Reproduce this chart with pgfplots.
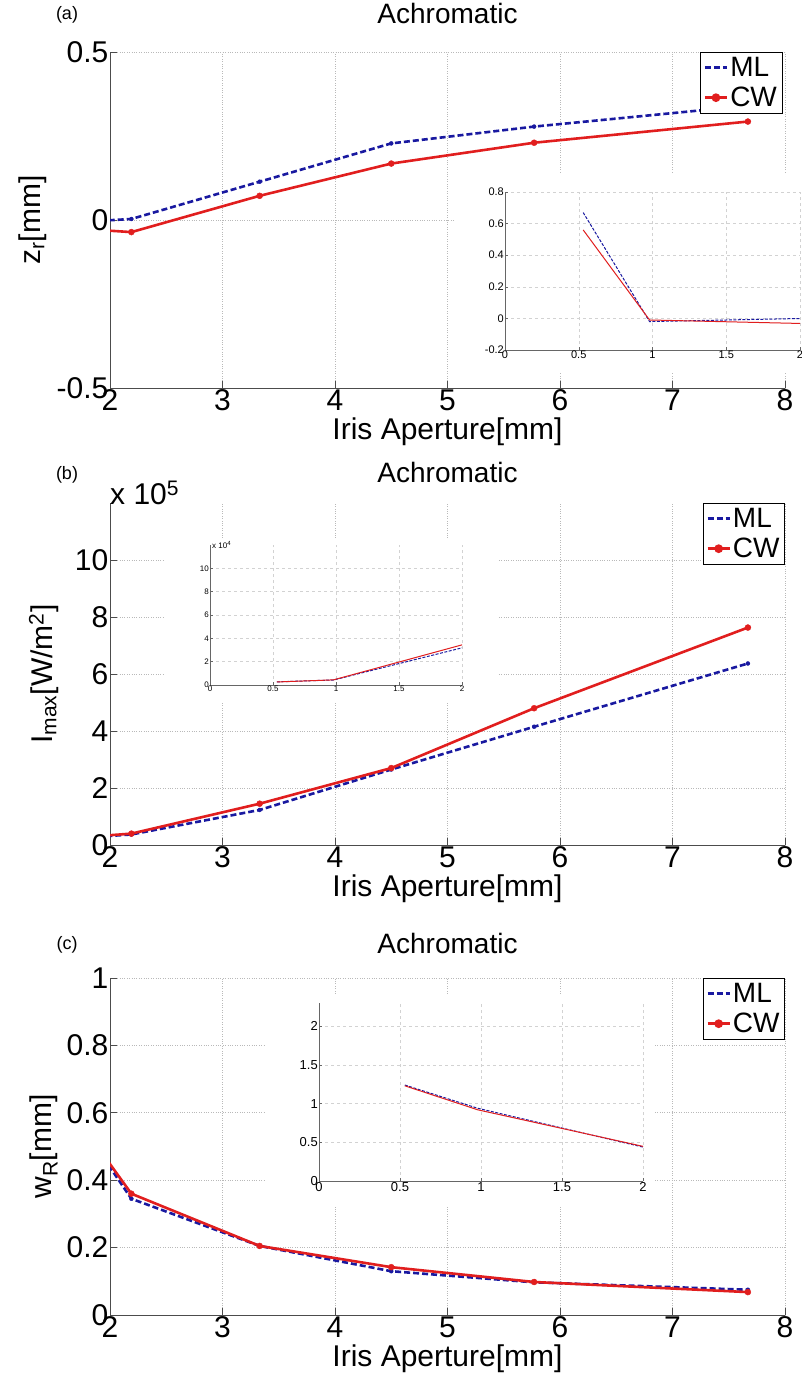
\documentclass[border=0pt]{standalone}
\usepackage{fontspec}
\setmainfont{Liberation Sans}
\usepackage{pgfplots}
\usepackage{pgfplotstable}
\pgfplotsset{compat=1.18}
\definecolor{mlblue}{RGB}{25,25,160}
\definecolor{cwred}{RGB}{225,30,30}

% x = iris aperture [mm]; ml / cw columns
\pgfplotstableread{
x ml cw
0.53 0.67 0.56
0.98 -0.02 -0.01
2.19 0.003 -0.036
3.33 0.114 0.072
4.50 0.228 0.168
5.77 0.278 0.230
7.67 0.340 0.293
}\dataA
% I_max in units of 1e5
\pgfplotstableread{
x ml cw
0.53 0.027 0.026
0.98 0.043 0.044
2.19 0.37 0.40
3.33 1.23 1.45
4.50 2.65 2.70
5.77 4.15 4.80
7.67 6.37 7.63
}\dataB
% inset, units of 1e4
\pgfplotstableread{
x ml cw
0.53 0.27 0.26
0.98 0.43 0.44
2.19 3.7 4.0
}\dataBin
\pgfplotstableread{
x ml cw
0.53 1.24 1.23
0.98 0.94 0.92
2.19 0.345 0.36
3.33 0.205 0.205
4.50 0.130 0.142
5.77 0.097 0.098
7.67 0.075 0.068
}\dataC

\pgfplotsset{
  mainax/.style={
    scale only axis, width=675pt, anchor=south west,
    xmin=2, xmax=8, xtick={2,3,...,8},
    axis lines*=left, axis line style={-, black!70, line width=0.8pt},
    tick align=inside, major tick length=7pt,
    tick style={black!70, line width=0.8pt},
    grid=major, major grid style={dotted, gray!55, line width=0.8pt},
    font=\fontsize{30}{36}\selectfont,
    tick label style={font=\fontsize{30}{36}\selectfont, inner sep=1.5pt},
    /pgf/number format/assume math mode=true,
    xlabel={Iris Aperture[mm]},
    xlabel style={at={(axis description cs:0.5,0)}, anchor=center, yshift=-44pt},
    ylabel style={at={(axis description cs:0,0.5)}, anchor=center},
    title={Achromatic},
    title style={at={(axis description cs:0.5,1)}, anchor=center, font=\fontsize{28}{34}\selectfont},
    legend style={draw=black, line width=0.8pt, fill=white,
      font=\fontsize{28}{32}\selectfont, inner sep=3pt, row sep=5pt},
    legend cell align=left,
    legend image code/.code={\draw[mark repeat=2,mark phase=2,#1] plot coordinates {(0pt,0pt) (11pt,0pt) (22pt,0pt)};},
  },
  mlline/.style={mlblue, line width=2.6pt, dash pattern=on 6pt off 3pt},
  cwline/.style={cwred, line width=2.6pt},
  inset/.style={
    scale only axis, anchor=south west,
    xmin=0, xmax=2, xtick={0,0.5,1,1.5,2},
    axis lines*=left, axis line style={-, black!60, line width=0.6pt},
    tick align=inside, major tick length=3pt, tick style={black!60, line width=0.5pt},
    grid=major, major grid style={dashed, gray!35, line width=0.5pt},
    /pgf/number format/assume math mode=true,
    tick label style={inner sep=1pt},
  },
}

\begin{document}
\begin{tikzpicture}
\useasboundingbox (0pt,0pt) rectangle (802pt,-1379pt);

% ---------------- (a) ----------------
\begin{axis}[mainax, name=pa, at={(110pt,-388pt)}, height=336pt,
  ymin=-0.5, ymax=0.5, ytick={-0.5,0,0.5},
  ylabel={z\textsubscript{r}[mm]}, ylabel style={yshift=77pt},
  title style={yshift=33pt},
  legend style={at={(0.996,1)}, anchor=north east}]
\addlegendimage{mlline}
\addlegendimage{cwline, mark=*, mark size=3pt}
\addplot[mlline, forget plot] table[x=x, y=ml] {\dataA};
\addplot[cwline, forget plot] table[x=x, y=cw] {\dataA};
\addplot[only marks, mlblue, mark=*, mark size=2pt, restrict x to domain=2:8, forget plot] table[x=x, y=ml] {\dataA};
\addplot[only marks, cwred, mark=*, mark size=3pt, restrict x to domain=2:8, forget plot] table[x=x, y=cw] {\dataA};
\legend{ML, CW}
\end{axis}
\node[font=\fontsize{18}{21}\selectfont] at (pa.north west) [xshift=-43pt, yshift=37pt] {(a)};
\fill[white] (455pt,-173pt) rectangle (802pt,-373pt);
\begin{axis}[inset, at={(505pt,-350pt)}, width=295pt, height=158pt,
  ymin=-0.2, ymax=0.8, ytick={-0.2,0,0.2,0.4,0.6,0.8},
  tick label style={font=\fontsize{11}{13}\selectfont}]
\addplot[mlblue, line width=1pt, dash pattern=on 3pt off 1.5pt] table[x=x, y=ml] {\dataA};
\addplot[cwred, line width=1pt] table[x=x, y=cw] {\dataA};
\end{axis}

% ---------------- (b) ----------------
\begin{axis}[mainax, name=pb, at={(110pt,-845pt)}, height=342pt,
  ymin=0, ymax=12, ytick={0,2,...,10}, scaled y ticks=false,
  ylabel={I\textsubscript{max}[W/m\textsuperscript{2}]}, ylabel style={yshift=66pt},
  title style={yshift=25pt},
  legend style={at={(1,1)}, anchor=north east}]
\addlegendimage{mlline}
\addlegendimage{cwline, mark=*, mark size=3pt}
\addplot[mlline, forget plot] table[x=x, y=ml] {\dataB};
\addplot[cwline, forget plot] table[x=x, y=cw] {\dataB};
\addplot[only marks, mlblue, mark=*, mark size=2pt, restrict x to domain=2:8, forget plot] table[x=x, y=ml] {\dataB};
\addplot[only marks, cwred, mark=*, mark size=3pt, restrict x to domain=2:8, forget plot] table[x=x, y=cw] {\dataB};
\legend{ML, CW}
\end{axis}
\node[font=\fontsize{18}{21}\selectfont] at (pb.north west) [xshift=-43pt, yshift=28pt] {(b)};
\node[anchor=south west, inner sep=0pt, font=\fontsize{30}{36}\selectfont] at (pb.north west) [yshift=-2pt] {x 10\textsuperscript{5}};
\fill[white] (165pt,-540pt) rectangle (497pt,-702pt);
\begin{axis}[inset, name=pbi, at={(210pt,-685pt)}, width=252pt, height=140pt,
  ymin=0, ymax=12, ytick={0,2,...,10},
  tick label style={font=\fontsize{8}{10}\selectfont}]
\addplot[mlblue, line width=1pt, dash pattern=on 3pt off 1.5pt] table[x=x, y=ml] {\dataBin};
\addplot[cwred, line width=1pt] table[x=x, y=cw] {\dataBin};
\end{axis}
\node[anchor=south west, inner sep=0pt, font=\fontsize{8}{10}\selectfont] at (pbi.north west) [xshift=2pt, yshift=-4pt] {x 10\textsuperscript{4}};

% ---------------- (c) ----------------
\begin{axis}[mainax, name=pc, at={(110pt,-1315pt)}, height=337pt,
  ymin=0, ymax=1, ytick={0,0.2,0.4,0.6,0.8,1},
  ylabel={w\textsubscript{R}[mm]}, ylabel style={yshift=66pt},
  title style={yshift=29pt},
  legend style={at={(1,1)}, anchor=north east}]
\addlegendimage{mlline}
\addlegendimage{cwline, mark=*, mark size=3pt}
\addplot[mlline, forget plot] table[x=x, y=ml] {\dataC};
\addplot[cwline, forget plot] table[x=x, y=cw] {\dataC};
\addplot[only marks, mlblue, mark=*, mark size=2pt, restrict x to domain=2:8, forget plot] table[x=x, y=ml] {\dataC};
\addplot[only marks, cwred, mark=*, mark size=3pt, restrict x to domain=2:8, forget plot] table[x=x, y=cw] {\dataC};
\legend{ML, CW}
\end{axis}
\node[font=\fontsize{18}{21}\selectfont] at (pc.north west) [xshift=-43pt, yshift=33pt] {(c)};
\fill[white] (265pt,-995pt) rectangle (655pt,-1205pt);
\begin{axis}[inset, at={(319pt,-1181pt)}, width=324pt, height=178pt,
  ymin=0, ymax=2.3, ytick={0,0.5,1,1.5,2},
  tick label style={font=\fontsize{13}{15}\selectfont}]
\addplot[mlblue, line width=1pt, dash pattern=on 3pt off 1.5pt] table[x=x, y=ml] {\dataC};
\addplot[cwred, line width=1pt] table[x=x, y=cw] {\dataC};
\end{axis}
\end{tikzpicture}
\end{document}
